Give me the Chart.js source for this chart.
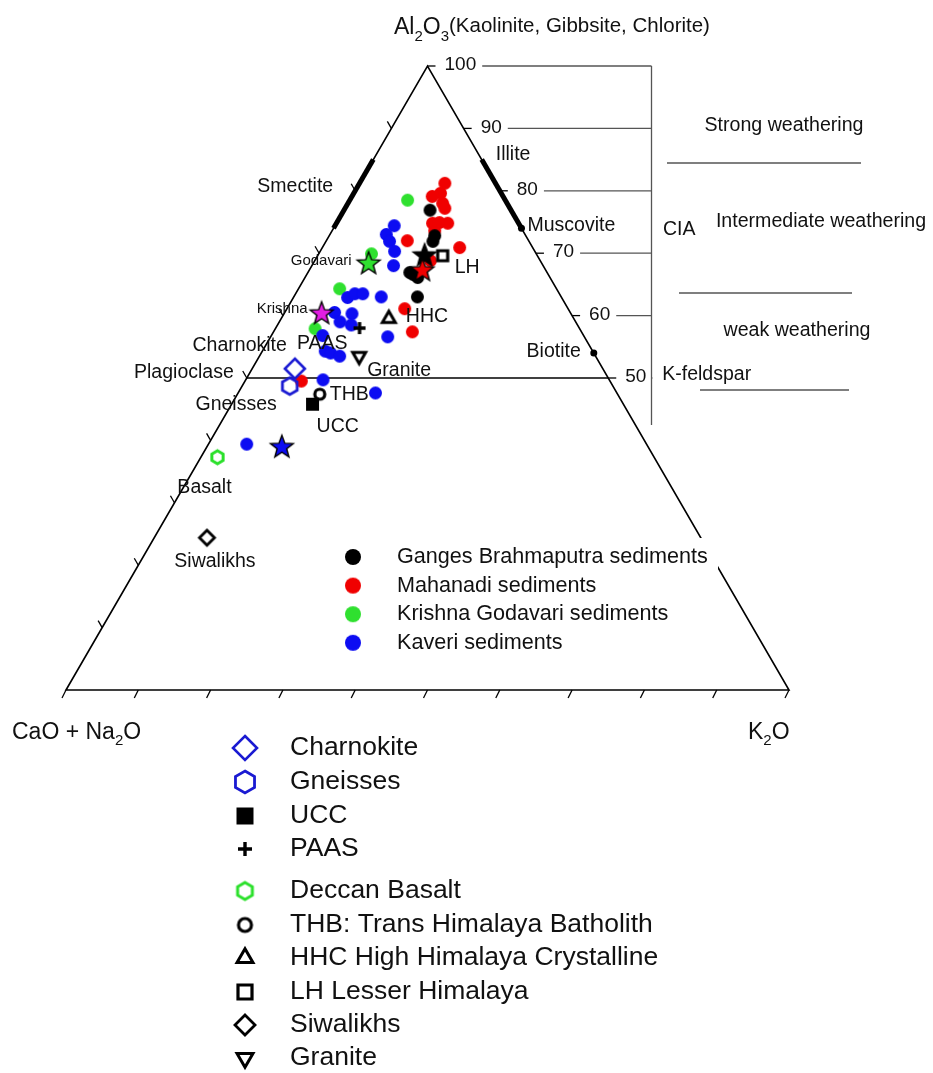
<!DOCTYPE html>
<html>
<head>
<meta charset="utf-8">
<script src="https://cdn.jsdelivr.net/npm/chart.js@4.4.0/dist/chart.umd.min.js"></script>
<style>
  html, body { margin: 0; padding: 0; background: #ffffff; }
  canvas { display: block; }
</style>
</head>
<body>
<canvas id="acnk" width="933" height="1073"></canvas>
<script>
// A–CN–K ternary: every composition is given as Al2O3 (A) and K2O (K) in percent,
// CaO + Na2O = 100 − A − K.

const gangesA = [76.9, 72.8, 71.9, 66.9, 66.1, 66.6, 63.0];
const gangesK = [11.9, 14.6, 14.8, 14.1, 15.6, 14.7, 17.1];

const mahanadiA = [81.2, 79.6, 79.1, 78.0, 77.2, 74.8, 74.9, 74.8, 73.6, 72.0, 70.9, 68.8, 61.1, 57.4, 49.5];
const mahanadiK = [11.8, 12.0, 11.1, 13.1, 13.8, 13.3, 14.2, 15.4, 14.2, 11.2, 19.0, 16.0, 16.3, 19.2, 7.8];

const krishnaGodavariA = [78.5, 69.9, 64.3, 57.9];
const krishnaGodavariK = [8.0, 7.3, 5.7, 5.5];

const kaveriA = [74.4, 73.0, 71.9, 70.3, 68.0, 62.9, 63.5, 63.5, 63.0, 60.5, 59.0, 60.3, 58.5, 56.6, 56.8, 54.3, 54.0, 53.5, 49.7, 47.6, 39.4];
const kaveriK = [8.2, 7.8, 8.8, 10.3, 11.3, 7.5, 8.2, 9.3, 12.1, 6.9, 8.4, 9.4, 10.2, 16.2, 7.1, 8.7, 9.6, 11.1, 10.7, 19.0, 5.3];

// basin averages (stars)
const averageNames = ['Ganges Brahmaputra', 'Mahanadi', 'Godavari', 'Krishna', 'Kaveri'];
const averageA = [69.6, 67.2, 68.3, 60.3, 38.9];
const averageK = [14.8, 15.7, 7.7, 5.2, 10.4];

// source rocks and reference compositions
const rockNames = ['Charnokite', 'Gneisses', 'UCC', 'PAAS', 'Deccan Basalt',
  'THB: Trans Himalaya Batholith', 'HHC High Himalaya Crystalline', 'LH Lesser Himalaya', 'Siwalikhs', 'Granite'];
const rockA = [51.5, 48.7, 45.8, 58.0, 37.3, 47.4, 59.5, 69.6, 24.4, 53.5];
const rockK = [5.9, 6.6, 11.2, 11.6, 2.3, 11.4, 14.9, 17.3, 7.3, 13.8];

const sedimentNames = ['Ganges Brahmaputra sediments', 'Mahanadi sediments', 'Krishna Godavari sediments', 'Kaveri sediments'];

// axis ticks
const ciaTicks = [100, 90, 80, 70, 60, 50];
const sideTicks = [10, 20, 30, 40, 50, 60, 70, 80, 90];
const baseTicks = [0, 10, 20, 30, 40, 50, 60, 70, 80, 90, 100];

// clay and mineral compositions on the edges
const smectiteA = [74, 85];
const illiteA = [74, 85];
const muscoviteA = 74;
const biotiteA = 54;
const feldsparA = 50;

// ---------------------------------------------------------------
const FONT = '"Liberation Sans", Arial, Helvetica, sans-serif';
const C = {
  black: '#000000', red: '#f00000', green: '#2fe02f', blue: '#0c0cf2',
  magenta: '#e21ee2', rockBlue: '#1a1ad2', basalt: '#2be02b', grey: '#555555'
};

const toXY = (a, k) => ({ x: k + a / 2, y: a });

function makeMarker(shape, size, fill, stroke, lw) {
  const pad = Math.ceil(lw || 0) + 3;
  const dim = Math.ceil(size) + pad * 2 + 2;
  const cv = document.createElement('canvas');
  cv.width = dim; cv.height = dim;
  const g = cv.getContext('2d');
  const m = dim / 2, r = size / 2;
  g.beginPath();
  if (shape === 'circle') {
    g.arc(m, m, r, 0, Math.PI * 2);
  } else if (shape === 'square') {
    g.rect(m - r, m - r, size, size);
  } else if (shape === 'diamond') {
    g.moveTo(m, m - r); g.lineTo(m + r, m); g.lineTo(m, m + r); g.lineTo(m - r, m); g.closePath();
  } else if (shape === 'hexagon') {
    for (let i = 0; i < 6; i++) {
      const t = (-90 + 60 * i) * Math.PI / 180;
      const px = m + r * Math.cos(t), py = m + r * Math.sin(t);
      if (i) g.lineTo(px, py); else g.moveTo(px, py);
    }
    g.closePath();
  } else if (shape === 'triangle' || shape === 'triangleDown') {
    const s = shape === 'triangle' ? 1 : -1;
    const R = r * 1.15;
    g.moveTo(m, m - s * R);
    g.lineTo(m + R * 0.866, m + s * R * 0.5);
    g.lineTo(m - R * 0.866, m + s * R * 0.5);
    g.closePath();
  } else if (shape === 'star') {
    for (let i = 0; i < 10; i++) {
      const rr = i % 2 ? r * 0.42 : r;
      const t = (-90 + 36 * i) * Math.PI / 180;
      const px = m + rr * Math.cos(t), py = m + rr * Math.sin(t);
      if (i) g.lineTo(px, py); else g.moveTo(px, py);
    }
    g.closePath();
  } else if (shape === 'plus') {
    g.moveTo(m - r, m); g.lineTo(m + r, m);
    g.moveTo(m, m - r); g.lineTo(m, m + r);
  }
  if (fill) { g.fillStyle = fill; g.fill(); }
  if (stroke && lw) {
    g.lineWidth = lw; g.strokeStyle = stroke; g.lineJoin = 'miter'; g.stroke();
  }
  return cv;
}

const dotSize = 13;
const sedimentDots = [C.black, C.red, C.green, C.blue].map(c => makeMarker('circle', dotSize, c, null, 0));
const legendDots = [C.black, C.red, C.green, C.blue].map(c => makeMarker('circle', 16, c, null, 0));
const starColors = [C.black, C.red, C.green, C.magenta, C.blue];
const stars = starColors.map(c => makeMarker('star', 24, c, '#000', 1.4));

// shape, plot size, legend size, fill, stroke, line width
const rockStyles = [
  ['diamond', 20, 24, null, C.rockBlue, 2.6],
  ['hexagon', 17, 22, null, C.rockBlue, 2.8],
  ['square', 13, 17, '#000', null, 0],
  ['plus', 12, 14, null, '#000', 3.4],
  ['hexagon', 13, 17, null, C.basalt, 3.0],
  ['circle', 10, 13, null, '#000', 3.2],
  ['triangle', 13, 16, null, '#000', 3.0],
  ['square', 10, 14, null, '#000', 3.2],
  ['diamond', 15, 20, null, '#000', 2.8],
  ['triangleDown', 13, 16, null, '#000', 3.0]
];
const rockMarkers = rockStyles.map(s => makeMarker(s[0], s[1], s[3], s[4], s[5]));
const rockLegendMarkers = rockStyles.map(s => makeMarker(s[0], s[2], s[3], s[4], s[5]));

function series(label, As, Ks, img, order) {
  return {
    label,
    data: As.map((a, i) => toXY(a, Ks[i])),
    pointStyle: img,
    pointRadius: 6,
    pointHoverRadius: 6,
    order
  };
}

const datasets = [
  series(sedimentNames[1], mahanadiA, mahanadiK, sedimentDots[1], 20),
  series(sedimentNames[0], gangesA, gangesK, sedimentDots[0], 19),
  series(sedimentNames[2], krishnaGodavariA, krishnaGodavariK, sedimentDots[2], 18),
  series(sedimentNames[3], kaveriA, kaveriK, sedimentDots[3], 17)
];
averageNames.forEach((n, i) => datasets.push(series(n + ' average', [averageA[i]], [averageK[i]], stars[i], 12 - i)));
rockNames.forEach((n, i) => datasets.push(series(n, [rockA[i]], [rockK[i]], rockMarkers[i], 1)));

// ---------------------------------------------------------------
function richText(ctx, parts, x, y, align) {
  let w = 0;
  parts.forEach(p => { ctx.font = p[1] + 'px ' + FONT; w += ctx.measureText(p[0]).width; });
  let cx = align === 'right' ? x - w : align === 'center' ? x - w / 2 : x;
  ctx.textAlign = 'left';
  ctx.textBaseline = 'alphabetic';
  parts.forEach(p => {
    ctx.font = p[1] + 'px ' + FONT;
    ctx.fillText(p[0], cx, y + (p[2] || 0));
    cx += ctx.measureText(p[0]).width;
  });
}

function label(ctx, text, x, y, size, align) {
  ctx.font = size + 'px ' + FONT;
  ctx.textAlign = align || 'left';
  ctx.textBaseline = 'middle';
  ctx.fillStyle = '#111';
  ctx.fillText(text, x, y);
}

function seg(ctx, x1, y1, x2, y2) {
  ctx.beginPath(); ctx.moveTo(x1, y1); ctx.lineTo(x2, y2); ctx.stroke();
}

function ternaryPixel(chart, a, k) {
  const p = toXY(a, k);
  return { x: chart.scales.x.getPixelForValue(p.x), y: chart.scales.y.getPixelForValue(p.y) };
}

const ternaryFrame = {
  id: 'ternaryFrame',
  beforeDatasetsDraw(chart) {
    const ctx = chart.ctx;
    const P = (a, k) => ternaryPixel(chart, a, k);
    ctx.save();
    ctx.strokeStyle = '#000';
    ctx.lineCap = 'butt';

    // outline
    const top = P(100, 0), left = P(0, 0), right = P(0, 100);
    ctx.lineWidth = 1.6;
    ctx.beginPath();
    ctx.moveTo(left.x, left.y); ctx.lineTo(top.x, top.y); ctx.lineTo(right.x, right.y); ctx.closePath();
    ctx.stroke();

    // ticks
    ctx.lineWidth = 1.3;
    sideTicks.forEach(a => { const p = P(a, 0); seg(ctx, p.x, p.y, p.x - 4, p.y - 7); });
    baseTicks.forEach(k => { const p = P(0, k); seg(ctx, p.x, p.y, p.x - 4, p.y + 8); });
    ciaTicks.forEach(a => { const p = P(a, 100 - a); seg(ctx, p.x, p.y, p.x + 8, p.y); });

    // plagioclase – K-feldspar join
    const pl = P(feldsparA, 0), kf = P(feldsparA, 100 - feldsparA);
    ctx.lineWidth = 1.6;
    seg(ctx, pl.x, pl.y, kf.x, kf.y);

    // clay fields on the edges
    ctx.lineWidth = 5;
    const s1 = P(smectiteA[0], 0), s2 = P(smectiteA[1], 0);
    seg(ctx, s1.x, s1.y, s2.x, s2.y);
    const i1 = P(illiteA[0], 100 - illiteA[0]), i2 = P(illiteA[1], 100 - illiteA[1]);
    seg(ctx, i1.x, i1.y, i2.x, i2.y);

    ctx.fillStyle = '#000';
    [muscoviteA, biotiteA].forEach(a => {
      const p = P(a, 100 - a);
      ctx.beginPath(); ctx.arc(p.x, p.y, 3.5, 0, Math.PI * 2); ctx.fill();
    });

    // CIA scale on the right
    const barX = 651.5;
    ctx.strokeStyle = C.grey;
    ctx.lineWidth = 1.3;
    ciaTicks.forEach(a => {
      const p = P(a, 100 - a);
      const tx = p.x + 17;
      label(ctx, String(a), tx, p.y - 1, 19, 'left');
      ctx.font = '19px ' + FONT;
      const w = ctx.measureText(String(a)).width;
      seg(ctx, tx + w + 6, p.y, barX, p.y);
    });
    seg(ctx, barX, top.y, barX, 425);
    seg(ctx, 667, 163, 861, 163);
    seg(ctx, 679, 293, 852, 293);
    seg(ctx, 700, 390, 849, 390);

    label(ctx, 'Strong weathering', 784, 126, 19.6, 'center');
    label(ctx, 'Intermediate weathering', 821, 222, 19.6, 'center');
    label(ctx, 'weak weathering', 797, 331, 19.6, 'center');
    label(ctx, 'CIA', 663, 230, 19.5, 'left');

    // edge mineral names
    const sm = P(80, 0);
    label(ctx, 'Smectite', sm.x - 22, sm.y - 4, 19.5, 'right');
    const il = P(illiteA[1], 100 - illiteA[1]);
    label(ctx, 'Illite', il.x + 14, il.y - 5, 19.5, 'left');
    const mu = P(muscoviteA, 100 - muscoviteA);
    label(ctx, 'Muscovite', mu.x + 6, mu.y - 3, 19.5, 'left');
    const bi = P(biotiteA, 100 - biotiteA);
    label(ctx, 'Biotite', bi.x - 13, bi.y - 1, 19.5, 'right');
    label(ctx, 'Plagioclase', pl.x - 13, pl.y - 5, 19.5, 'right');
    label(ctx, 'K-feldspar', kf.x + 54, kf.y - 3, 19.5, 'left');

    ctx.restore();
  },
  afterDatasetsDraw(chart) {
    const ctx = chart.ctx;
    const P = (a, k) => ternaryPixel(chart, a, k);
    ctx.save();

    // names beside the reference compositions: [text, index, dx, dy, align]
    const rockText = [
      ['Charnokite', 0, -8, -23, 'right'],
      ['Gneisses', 1, -13, 19, 'right'],
      ['UCC', 2, 4, 22, 'left'],
      ['PAAS', 3, -12, 16, 'right'],
      ['Basalt', 4, -13, 30, 'center'],
      ['THB', 5, 10, 0, 'left'],
      ['HHC', 6, 17, -2, 'left'],
      ['LH', 7, 12, 12, 'left'],
      ['Siwalikhs', 8, 8, 24, 'center'],
      ['Granite', 9, 8, 14, 'left']
    ];
    rockText.forEach(t => {
      const p = P(rockA[t[1]], rockK[t[1]]);
      label(ctx, t[0], p.x + t[2], p.y + t[3], 19.5, t[4]);
    });
    const go = P(averageA[2], averageK[2]);
    label(ctx, 'Godavari', go.x - 17, go.y - 3, 15, 'right');
    const kr = P(averageA[3], averageK[3]);
    label(ctx, 'Krishna', kr.x - 14, kr.y - 5, 15, 'right');

    // sediment legend inside the triangle
    ctx.fillStyle = '#ffffff';
    ctx.fillRect(336, 538, 382, 122);
    sedimentNames.forEach((n, i) => {
      const y = 557 + i * 28.6;
      const img = legendDots[i];
      ctx.drawImage(img, 353 - img.width / 2, y - img.height / 2);
      label(ctx, n, 397, y, 21.6, 'left');
    });

    // corner names
    ctx.fillStyle = '#111';
    richText(ctx, [['CaO + Na', 23], ['2', 15, 6], ['O', 23]], 12, 739, 'left');
    richText(ctx, [['K', 23], ['2', 15, 6], ['O', 23]], 748, 739, 'left');
    richText(ctx, [['Al', 23], ['2', 15, 7], ['O', 23], ['3', 15, 7], ['(Kaolinite, Gibbsite, Chlorite)', 20.5, -2]], 394, 34, 'left');

    // reference-composition legend below the diagram
    const rowsY = [748, 782, 816, 849, 891, 925, 958, 992, 1025, 1058];
    rockNames.forEach((n, i) => {
      const img = rockLegendMarkers[i];
      ctx.drawImage(img, 245 - img.width / 2, rowsY[i] - img.height / 2);
      label(ctx, n, 290, rowsY[i], 26.5, 'left');
    });

    ctx.restore();
  }
};

new Chart(document.getElementById('acnk'), {
  type: 'scatter',
  data: { datasets },
  options: {
    responsive: false,
    animation: false,
    devicePixelRatio: 1,
    events: [],
    layout: { padding: { left: 66, right: 144, top: 66, bottom: 383 } },
    scales: {
      x: { type: 'linear', min: 0, max: 100, display: false },
      y: { type: 'linear', min: 0, max: 100, display: false }
    },
    plugins: { legend: { display: false }, tooltip: { enabled: false } },
    clip: false
  },
  plugins: [ternaryFrame]
});
</script>
</body>
</html>
